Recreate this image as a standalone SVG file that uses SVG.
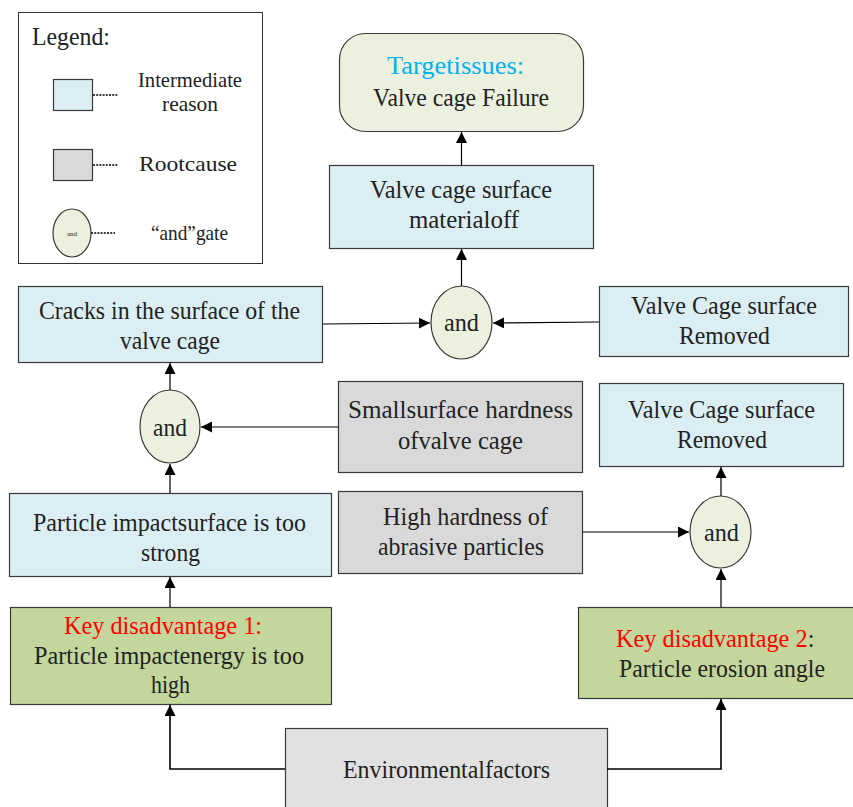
<svg xmlns="http://www.w3.org/2000/svg" width="853" height="807" viewBox="0 0 853 807" font-family="Liberation Serif, serif">
<style>
text{font-family:'Liberation Serif',serif;font-size:25px;fill:#222;}
.lg{font-size:21px;}
.box{stroke:#3a3a3a;stroke-width:1.2;}
.inter{fill:#daeef3;}
.root{fill:#d9d9d9;}
.env{fill:#e1e1e1;}
.key{fill:#c3d69b;}
.gate{fill:#ebf1de;stroke:#3a3a3a;stroke-width:1.2;}
.red{fill:#ff0000;}
.blue{fill:#00b0f0;}
.con{fill:none;stroke:#000;stroke-width:1.2;marker-end:url(#arr);}
.dot{stroke:#000;stroke-width:1.5;stroke-dasharray:2,1.2;}
</style>
<defs>
<marker id="arr" markerUnits="userSpaceOnUse" markerWidth="12" markerHeight="12" refX="11" refY="5.5" orient="auto">
<path d="M0,0 L11,5.5 L0,11 z" fill="#000"/>
</marker>
</defs>
<rect width="853" height="807" fill="#fff"/>

<g id="legend">
<rect x="18.5" y="12.5" width="244" height="251" fill="#fff" stroke="#333" stroke-width="1"/>
<text x="32" y="45" textLength="78" lengthAdjust="spacingAndGlyphs">Legend:</text>
<rect class="box inter" x="53.5" y="79.5" width="39" height="31"/>
<line class="dot" x1="93" y1="95" x2="118" y2="95"/>
<text class="lg" x="138" y="87" textLength="104" lengthAdjust="spacingAndGlyphs">Intermediate</text>
<text class="lg" x="162" y="111" textLength="56" lengthAdjust="spacingAndGlyphs">reason</text>
<rect class="box root" x="53.5" y="149.5" width="39" height="31"/>
<line class="dot" x1="93" y1="165" x2="118" y2="165"/>
<text class="lg" x="139" y="171" textLength="98" lengthAdjust="spacingAndGlyphs">Rootcause</text>
<ellipse class="gate" cx="72" cy="233" rx="19" ry="24"/>
<text x="72" y="236" text-anchor="middle" style="font-size:7px">and</text>
<line class="dot" x1="91" y1="233" x2="115" y2="233"/>
<text class="lg" x="151" y="240" textLength="77" lengthAdjust="spacingAndGlyphs">“and”gate</text>
</g>

<g id="target">
<rect class="box" x="339.5" y="33.5" width="244" height="98" rx="26" fill="#ebf1de"/>
<text class="blue" x="387" y="74" textLength="137" lengthAdjust="spacingAndGlyphs">Targetissues:</text>
<text x="373" y="106" textLength="176" lengthAdjust="spacingAndGlyphs">Valve cage Failure</text>
</g>

<g id="material-off">
<rect class="box inter" x="329.5" y="165.5" width="264" height="83"/>
<text x="370" y="198" textLength="182" lengthAdjust="spacingAndGlyphs">Valve cage surface</text>
<text x="409" y="228" textLength="110" lengthAdjust="spacingAndGlyphs">materialoff</text>
</g>

<g id="gate1">
<ellipse class="gate" cx="461.5" cy="322.5" rx="30.5" ry="36.5"/>
<text x="444" y="331" textLength="35" lengthAdjust="spacingAndGlyphs">and</text>
</g>

<g id="cracks">
<rect class="box inter" x="18.5" y="286.5" width="304" height="76"/>
<text x="39" y="319" textLength="261" lengthAdjust="spacingAndGlyphs">Cracks in the surface of the</text>
<text x="120" y="349" textLength="100" lengthAdjust="spacingAndGlyphs">valve cage</text>
</g>

<g id="removed1">
<rect class="box inter" x="599.5" y="286.5" width="249" height="70"/>
<text x="631" y="314" textLength="186" lengthAdjust="spacingAndGlyphs">Valve Cage surface</text>
<text x="679" y="344" textLength="91" lengthAdjust="spacingAndGlyphs">Removed</text>
</g>

<g id="gate2">
<ellipse class="gate" cx="170" cy="426.5" rx="30" ry="36.5"/>
<text x="153" y="436" textLength="34" lengthAdjust="spacingAndGlyphs">and</text>
</g>

<g id="small-hardness">
<rect class="box root" x="338.5" y="381.5" width="244" height="91"/>
<text x="348" y="418" textLength="225" lengthAdjust="spacingAndGlyphs">Smallsurface hardness</text>
<text x="398" y="449" textLength="125" lengthAdjust="spacingAndGlyphs">ofvalve cage</text>
</g>

<g id="removed2">
<rect class="box inter" x="599.5" y="383.5" width="244" height="83"/>
<text x="628" y="418" textLength="187" lengthAdjust="spacingAndGlyphs">Valve Cage surface</text>
<text x="677" y="448" textLength="90" lengthAdjust="spacingAndGlyphs">Removed</text>
</g>

<g id="impact-surface">
<rect class="box inter" x="9.5" y="493.5" width="322" height="83"/>
<text x="33" y="531" textLength="273" lengthAdjust="spacingAndGlyphs">Particle impactsurface is too</text>
<text x="141" y="561" textLength="59" lengthAdjust="spacingAndGlyphs">strong</text>
</g>

<g id="high-hardness">
<rect class="box root" x="338.5" y="491.5" width="244" height="82"/>
<text x="383" y="525" textLength="165" lengthAdjust="spacingAndGlyphs">High hardness of</text>
<text x="378" y="555" textLength="166" lengthAdjust="spacingAndGlyphs">abrasive particles</text>
</g>

<g id="gate3">
<ellipse class="gate" cx="720.5" cy="532" rx="30.5" ry="36"/>
<text x="704" y="541" textLength="35" lengthAdjust="spacingAndGlyphs">and</text>
</g>

<g id="key1">
<rect class="box key" x="10.5" y="607.5" width="321" height="97"/>
<text class="red" x="64" y="634" textLength="198" lengthAdjust="spacingAndGlyphs">Key disadvantage 1:</text>
<text x="34" y="664" textLength="270" lengthAdjust="spacingAndGlyphs">Particle impactenergy is too</text>
<text x="151" y="693" textLength="39" lengthAdjust="spacingAndGlyphs">high</text>
</g>

<g id="key2">
<rect class="box key" x="578.5" y="607.5" width="280" height="91"/>
<text x="616" y="647" style="font-size:24.3px"><tspan class="red">Key disadvantage 2</tspan>:</text>
<text x="619" y="677" textLength="206" lengthAdjust="spacingAndGlyphs">Particle erosion angle</text>
</g>

<g id="environment">
<rect class="box env" x="285.5" y="728.5" width="322" height="85"/>
<text x="343" y="778" textLength="207" lengthAdjust="spacingAndGlyphs">Environmentalfactors</text>
</g>

<g id="connectors">
<path class="con" d="M461.5,165 L461.5,132"/>
<path class="con" d="M461.5,286 L461.5,249"/>
<path class="con" d="M323,324 L430,323"/>
<path class="con" d="M599,322 L493,323"/>
<path class="con" d="M170,390 L170,363"/>
<path class="con" d="M338,427 L201,427"/>
<path class="con" d="M170,493 L170,464"/>
<path class="con" d="M582,532 L689,532"/>
<path class="con" d="M721,496 L721,467"/>
<path class="con" d="M170,607 L170,577"/>
<path class="con" d="M721,607 L721,569"/>
<path class="con" d="M285,769 L170,769 L170,705" style="stroke-width:1.6"/>
<path class="con" d="M607,769 L721,769 L721,699" style="stroke-width:1.6"/>
</g>
</svg>
